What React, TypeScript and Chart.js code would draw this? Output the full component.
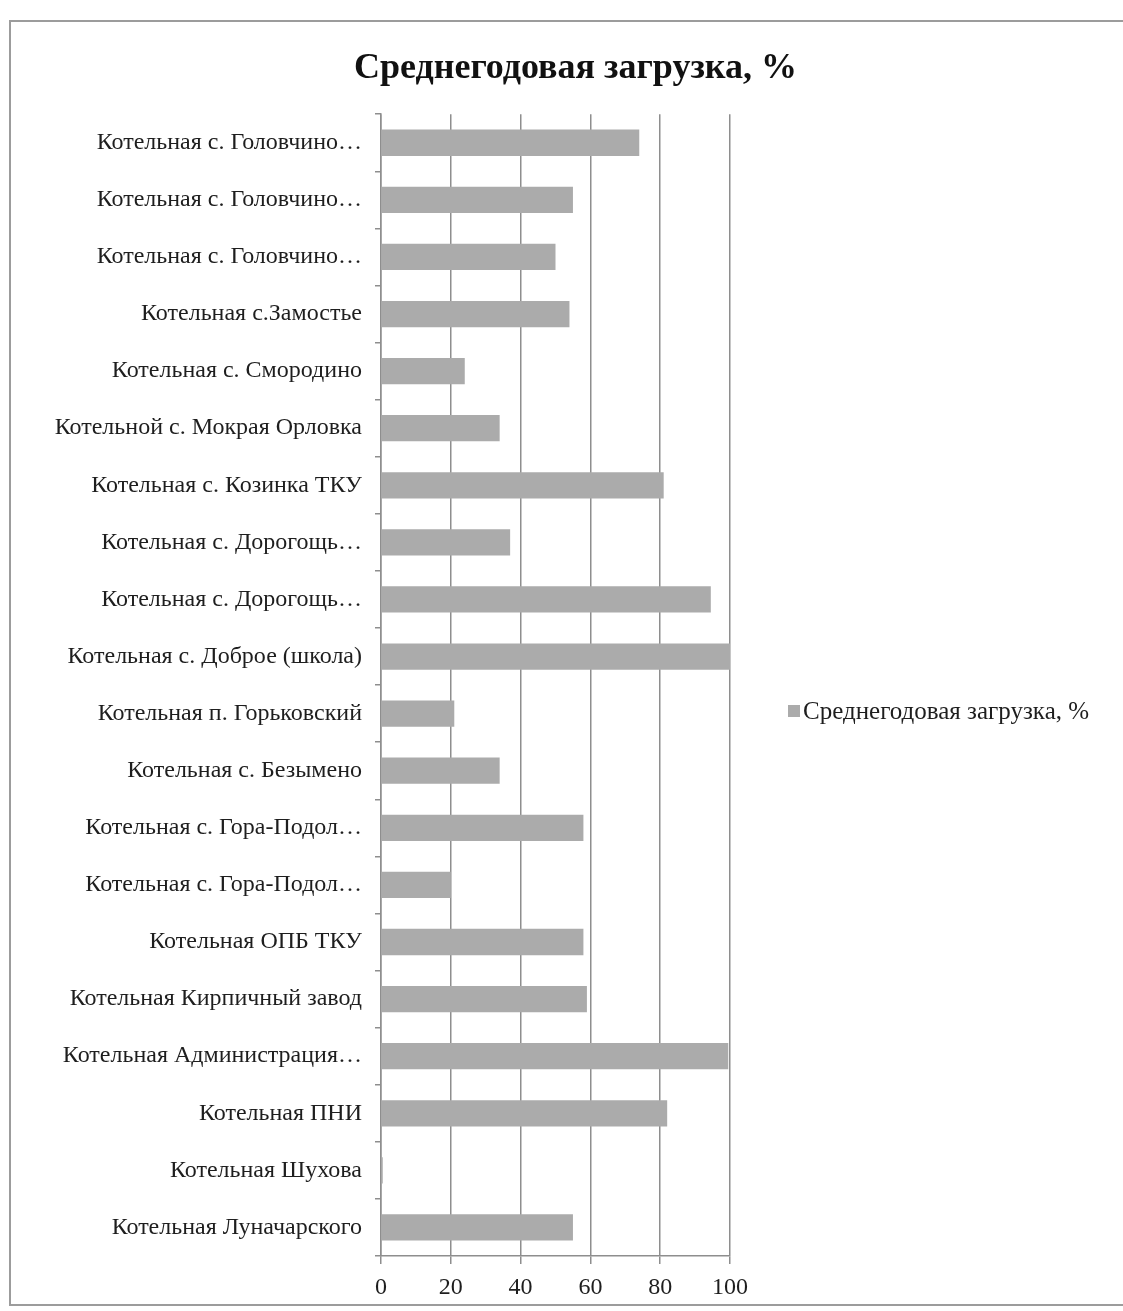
import React, { useEffect, useRef } from "react";
import { Chart, registerables } from "chart.js";

Chart.register(...registerables);

const titleText = "Среднегодовая загрузка, %";
const seriesLabel = "Среднегодовая загрузка, %";

const categories = [
  "Котельная с. Головчино…",
  "Котельная с. Головчино…",
  "Котельная с. Головчино…",
  "Котельная с.Замостье",
  "Котельная с. Смородино",
  "Котельной с. Мокрая Орловка",
  "Котельная с. Козинка ТКУ",
  "Котельная с. Дорогощь…",
  "Котельная с. Дорогощь…",
  "Котельная с. Доброе (школа)",
  "Котельная п. Горьковский",
  "Котельная с. Безымено",
  "Котельная с. Гора-Подол…",
  "Котельная с. Гора-Подол…",
  "Котельная ОПБ ТКУ",
  "Котельная Кирпичный завод",
  "Котельная Администрация…",
  "Котельная ПНИ",
  "Котельная Шухова",
  "Котельная Луначарского",
];

const loadValues = [
  74, 55, 50, 54, 24, 34, 81, 37, 94.5, 100, 21, 34, 58, 20, 58, 59, 99.5, 82,
  0.5, 55,
];

const xMin = 0;
const xMax = 100;
const xStep = 20;

const FONT = "'Liberation Serif', 'Times New Roman', serif";
const BAR_COLOR = "#ababab";
const GRID_COLOR = "#8e8e8e";
const TEXT_COLOR = "#1e1e1e";

const sideLegend = {
  id: "sideLegend",
  afterDraw(chart: any) {
    const { ctx, chartArea } = chart;
    const ds = chart.data.datasets[0];
    const x = chartArea.right + 58;
    const y = 711;
    ctx.save();
    ctx.fillStyle = ds.backgroundColor;
    ctx.fillRect(x, y - 6, 12, 12);
    ctx.font = `25px ${FONT}`;
    ctx.fillStyle = TEXT_COLOR;
    ctx.textBaseline = "middle";
    ctx.textAlign = "left";
    ctx.fillText(ds.label, x + 15, y + 1);
    ctx.restore();
  },
};

export default function App() {
  const canvasRef = useRef<HTMLCanvasElement | null>(null);

  useEffect(() => {
    document.body.style.margin = "0";
    const canvas = canvasRef.current;
    if (!canvas) return;
    const chart = new Chart(canvas, {
      type: "bar",
      data: {
        labels: categories,
        datasets: [
          {
            label: seriesLabel,
            data: loadValues,
            backgroundColor: BAR_COLOR,
            categoryPercentage: 1,
            barPercentage: 0.46,
          },
        ],
      },
      options: {
        indexAxis: "y",
        responsive: false,
        animation: false,
        devicePixelRatio: 1,
        layout: { padding: { left: 28, right: 0, top: 0, bottom: 0 } },
        plugins: {
          legend: { display: false },
          tooltip: { enabled: false },
          title: {
            display: true,
            text: titleText,
            color: "#111",
            font: { family: FONT, size: 36, weight: "bold" },
            padding: { top: 47, bottom: 24 },
          },
        },
        scales: {
          y: {
            type: "category",
            position: "left",
            grid: {
              drawOnChartArea: false,
              offset: true,
              drawTicks: true,
              tickLength: 6,
              color: GRID_COLOR,
              lineWidth: 1.5,
            },
            border: { display: true, color: GRID_COLOR, width: 1.5 },
            ticks: {
              autoSkip: false,
              font: { family: FONT, size: 24 },
              color: TEXT_COLOR,
              padding: 13,
            },
            afterFit: (scale: any) => {
              scale.width = 353;
            },
          },
          yRight: {
            type: "linear",
            position: "right",
            display: true,
            grid: { display: false, drawTicks: false },
            border: { display: false },
            ticks: { display: false },
            afterFit: (scale: any) => {
              scale.width = 393;
            },
          },
          x: {
            type: "linear",
            min: xMin,
            max: xMax,
            ticks: {
              stepSize: xStep,
              font: { family: FONT, size: 24 },
              color: TEXT_COLOR,
              padding: 9,
            },
            grid: {
              color: GRID_COLOR,
              lineWidth: 1.5,
              drawTicks: true,
              tickLength: 8,
            },
            border: { display: true, color: GRID_COLOR, width: 1.5 },
            afterFit: (scale: any) => {
              scale.height = 55;
            },
          },
        },
      },
      plugins: [sideLegend],
    });
    return () => chart.destroy();
  }, []);

  return (
    <div style={{ position: "relative", width: 1123, height: 1311, overflow: "hidden", background: "#fff" }}>
      <div
        style={{
          position: "absolute",
          left: 9,
          top: 20,
          width: 1130,
          height: 1286,
          borderLeft: "2px solid #9c9c9c",
          borderTop: "2px solid #9c9c9c",
          borderBottom: "2px solid #9c9c9c",
          boxSizing: "border-box",
        }}
      />
      <canvas
        ref={canvasRef}
        width={1123}
        height={1311}
        style={{ position: "absolute", left: 0, top: 0, display: "block" }}
      />
    </div>
  );
}
